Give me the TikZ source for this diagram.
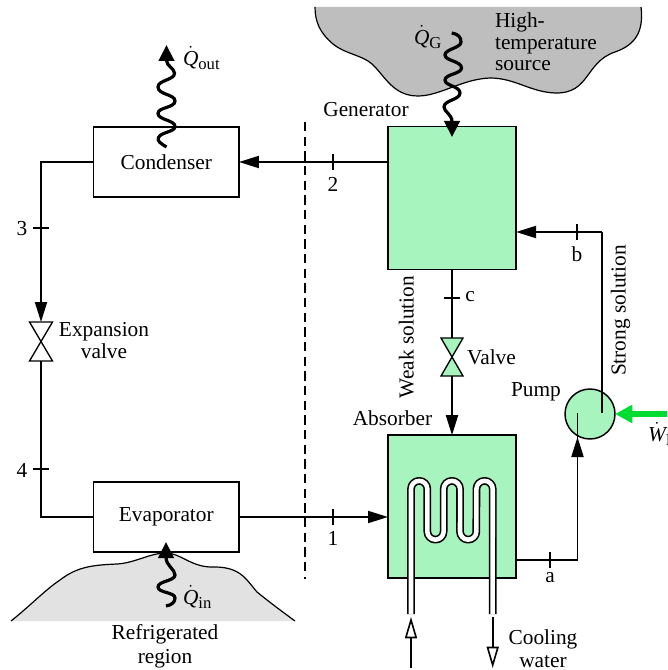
\documentclass[tikz,border=0pt]{standalone}
\usepackage{fontspec}
\setmainfont{Liberation Serif}
\usetikzlibrary{arrows.meta}
\definecolor{solgreen}{HTML}{A8F4BE}
\definecolor{pumpgreen}{HTML}{00DC32}
\definecolor{hotgrey}{HTML}{BEBEBE}
\definecolor{coldgrey}{HTML}{E2E2E2}
\newcommand{\rate}[2]{\(\dot{\hbox{\itshape #1}}_{\hbox{\fontsize{12.5}{12.5}\selectfont #2}}\)}
\tikzset{
  x=0.75pt, y=-0.75pt,
  every node/.style={font=\fontsize{16}{16}\selectfont, inner sep=0pt, outer sep=0pt},
  hx/.style={draw=black, line width=1.1pt, fill=white, minimum width=109pt, minimum height=52.5pt},
  vessel/.style={draw=black, line width=1.1pt, fill=solgreen, minimum width=96pt, minimum height=107pt},
  pipe/.style={draw=black, line width=1.45pt},
  flow/.style={pipe, -{Triangle[length=15pt,width=9pt]}},
  tick/.style={draw=black, line width=0.8pt},
  heat/.style={draw=black, line width=2.4pt, -{Triangle[length=12pt,width=11.5pt]}},
  openflow/.style={draw=black, line width=1.2pt, -{Triangle[open,fill=white,length=16pt,width=9pt]}},
  valveshape/.style={draw=black, line width=1pt},
}
\begin{document}
\begin{tikzpicture}
\clip (0,0) rectangle (667,670);
% heat reservoirs
\fill[hotgrey] (315,7) .. controls (315,22) and (320,33) .. (333,44)
  .. controls (345,54) and (362,55) .. (372,64)
  .. controls (385,76) and (393,96) .. (418,96)
  .. controls (440,96) and (462,79) .. (490,78)
  .. controls (515,78) and (530,92) .. (555,93)
  .. controls (590,94) and (585,62) .. (615,52)
  .. controls (635,45) and (644,32) .. (641,7) -- cycle;
\draw[line width=0.9pt] (315,7) .. controls (315,22) and (320,33) .. (333,44)
  .. controls (345,54) and (362,55) .. (372,64)
  .. controls (385,76) and (393,96) .. (418,96)
  .. controls (440,96) and (462,79) .. (490,78)
  .. controls (515,78) and (530,92) .. (555,93)
  .. controls (590,94) and (585,62) .. (615,52)
  .. controls (635,45) and (644,32) .. (641,7);
\fill[coldgrey] (11,621) .. controls (30,606) and (45,590) .. (60,580)
  .. controls (78,566) and (95,565) .. (117,564)
  .. controls (135,563) and (150,553) .. (166,553)
  .. controls (180,553) and (190,566) .. (210,567)
  .. controls (240,566) and (245,578) .. (257,592)
  .. controls (268,601) and (280,610) .. (295,621) -- cycle;
\draw[line width=0.9pt] (11,621) .. controls (30,606) and (45,590) .. (60,580)
  .. controls (78,566) and (95,565) .. (117,564)
  .. controls (135,563) and (150,553) .. (166,553)
  .. controls (180,553) and (190,566) .. (210,567)
  .. controls (240,566) and (245,578) .. (257,592)
  .. controls (268,601) and (280,610) .. (295,621);
% divider
\coordinate (divtop) at (305,122);
\coordinate (divbot) at (305,579);
\draw[line width=0.8pt, dash pattern=on 7pt off 4pt] (divtop) -- (divbot);
% components
\node[hx] (cond) at (166.3,162) {Condenser};
\node[hx] (evap) at (166.3,517) {Evaporator};
\node[vessel] (gen) at (452,198) {};
\node[vessel] (abs) at (452,506.5) {};
\node[circle, draw=black, line width=1.1pt, fill=solgreen, minimum size=37.5pt] (pump) at (590,414) {};
% valves
\coordinate (ev) at (41,341.5);
\coordinate (evt) at (41,322);
\coordinate (evb) at (41,361);
\draw[valveshape, fill=white] (29.5,322) -- (52.5,322) -- (29.5,361) -- (52.5,361) -- cycle;
\coordinate (vv) at (452,357);
\coordinate (vvt) at (452,338);
\coordinate (vvb) at (452,376);
\draw[valveshape, fill=solgreen] (441,338) -- (463,338) -- (441,376) -- (463,376) -- cycle;
% corners
\coordinate (cl) at (41,162);
\coordinate (el) at (41,517);
\coordinate (ar) at (577.5,560);
\coordinate (pin) at (577.5,413);
\coordinate (pout) at (602,413);
\coordinate (br) at (602,232);
% connectors
\draw[flow] (gen.west |- cond.east) -- (cond.east);
\draw[flow] (cond.west) -- (cl) -- (evt);
\draw[pipe] (evb) -- (el) -- (evap.west);
\draw[flow] (evap.east) -- (abs.west |- evap.east);
\draw[pipe] (gen.south) -- (vvt);
\draw[flow] (vvb) -- (abs.north);
\draw[pipe] (abs.east |- ar) -- (ar) -- (pin);
\draw[flow] (ar) -- (577.5,437);
\draw[pipe] (pout) -- (br);
\draw[flow] (br) -- (br -| gen.east);
% pump work
\coordinate (wstart) at (667,414);
\draw[draw=pumpgreen, line width=5.2pt, -{Triangle[length=13pt,width=13pt]}] (wstart) -- (pump.east);
% cooling coil
\coordinate (coilin) at (411,614);
\coordinate (coilout) at (492.7,614);
\foreach \w/\c in {5.8pt/black, 3.4pt/white}{
  \draw[line width=\w, color=\c, line join=round]
    (coilin) -- (411,489) arc[start angle=180,end angle=360,radius=8.17]
    -- (427.3,531.5) arc[start angle=180,end angle=0,radius=8.17]
    -- (443.7,489) arc[start angle=180,end angle=360,radius=8.17]
    -- (460,531.5) arc[start angle=180,end angle=0,radius=8.17]
    -- (476.4,489) arc[start angle=180,end angle=360,radius=8.17]
    -- (coilout);
}
\coordinate (cwin) at (411,668);
\coordinate (cwout) at (492.7,668);
\coordinate (cwtop) at (492.7,617);
\coordinate (cwtip) at (411,617);
\draw[openflow] (cwin) -- (cwtip);
\draw[openflow] (cwtop) -- (cwout);
% heat flows
\coordinate (qouts) at (166.5,147);
\coordinate (qoute) at (166.5,45);
\draw[heat] (qouts) .. controls (160,143) and (157,141) .. (158.5,137.5)
  .. controls (161,132) and (175,132) .. (175,126.5)
  .. controls (175,120) and (158,120) .. (158,113.5)
  .. controls (158,107) and (175,108) .. (175,101)
  .. controls (175,94) and (158,95) .. (158,87)
  .. controls (158,80) and (175,80) .. (174.5,73)
  .. controls (174,68) and (166.5,66) .. (qoute);
\coordinate (qgs) at (451.7,33);
\coordinate (qge) at (452,137);
\draw[heat] (qgs) .. controls (458,34) and (461,37) .. (461,42)
  .. controls (461,48) and (445,49) .. (445,55)
  .. controls (445,61) and (461.5,61) .. (461.5,68)
  .. controls (461.5,74) and (445,74) .. (445,80)
  .. controls (445,86) and (460,86) .. (460,93)
  .. controls (460,100) and (444,100) .. (444,107)
  .. controls (444,112) and (452,114) .. (qge);
\coordinate (qis) at (166,606);
\coordinate (qie) at (166,542);
\draw[heat] (qis) .. controls (172,605) and (175,602) .. (175,598)
  .. controls (175,592) and (158,593) .. (158,587)
  .. controls (158,581) and (175,581) .. (175,575)
  .. controls (175,569) and (166,566) .. (qie);
% state ticks
\coordinate (t1) at (333,517);
\coordinate (t2) at (333,162);
\coordinate (t3) at (41,228);
\coordinate (t4) at (41,469);
\coordinate (ta) at (550,560);
\coordinate (tb) at (577,232);
\coordinate (tc) at (452,298);
\foreach \p in {t1,t2,ta,tb}{\draw[tick] ([yshift=5.8pt]\p) -- ([yshift=-5.8pt]\p);}
\foreach \p in {t3,t4,tc}{\draw[tick] ([xshift=-5.8pt]\p) -- ([xshift=5.8pt]\p);}
% labels
\node (l1) at (333,538) {1};
\node (l2) at (333,184) {2};
\node (l3) at (22,229) {3};
\node (l4) at (22,470) {4};
\node (la) at (550,578) {a};
\node (lb) at (577,254) {b};
\node (lc) at (470,297) {c};
\node (lgen) at (366,110) {Generator};
\node (labs) at (392.5,418) {Absorber};
\node (lpump) at (536,392) {Pump};
\node (lvalve) at (491.5,357) {Valve};
\node[align=center, font=\fontsize{16}{17}\selectfont] (lexp) at (104,340.5) {Expansion\\valve};
\node[align=left, font=\fontsize{16}{16}\selectfont] (lhigh) at (546,42) {High-\\temperature\\source};
\node[align=center, font=\fontsize{16}{18}\selectfont] (lref) at (165,646) {Refrigerated\\region};
\node[align=center, font=\fontsize{16}{17}\selectfont] (lcool) at (543,648.5) {Cooling\\water};
\node[rotate=90] (lweak) at (406.5,337) {Weak solution};
\node[rotate=90] (lstrong) at (620.5,310.5) {Strong solution};
\node[anchor=west] (qo) at (183,58) {\rate{Q}{out}};
\node[anchor=west] (qg) at (414,37) {\rate{Q}{G}};
\node[anchor=west] (qi) at (183,597) {\rate{Q}{in}};
\node[anchor=west] (wp) at (648,434) {\rate{W}{P}};
\end{tikzpicture}
\end{document}
